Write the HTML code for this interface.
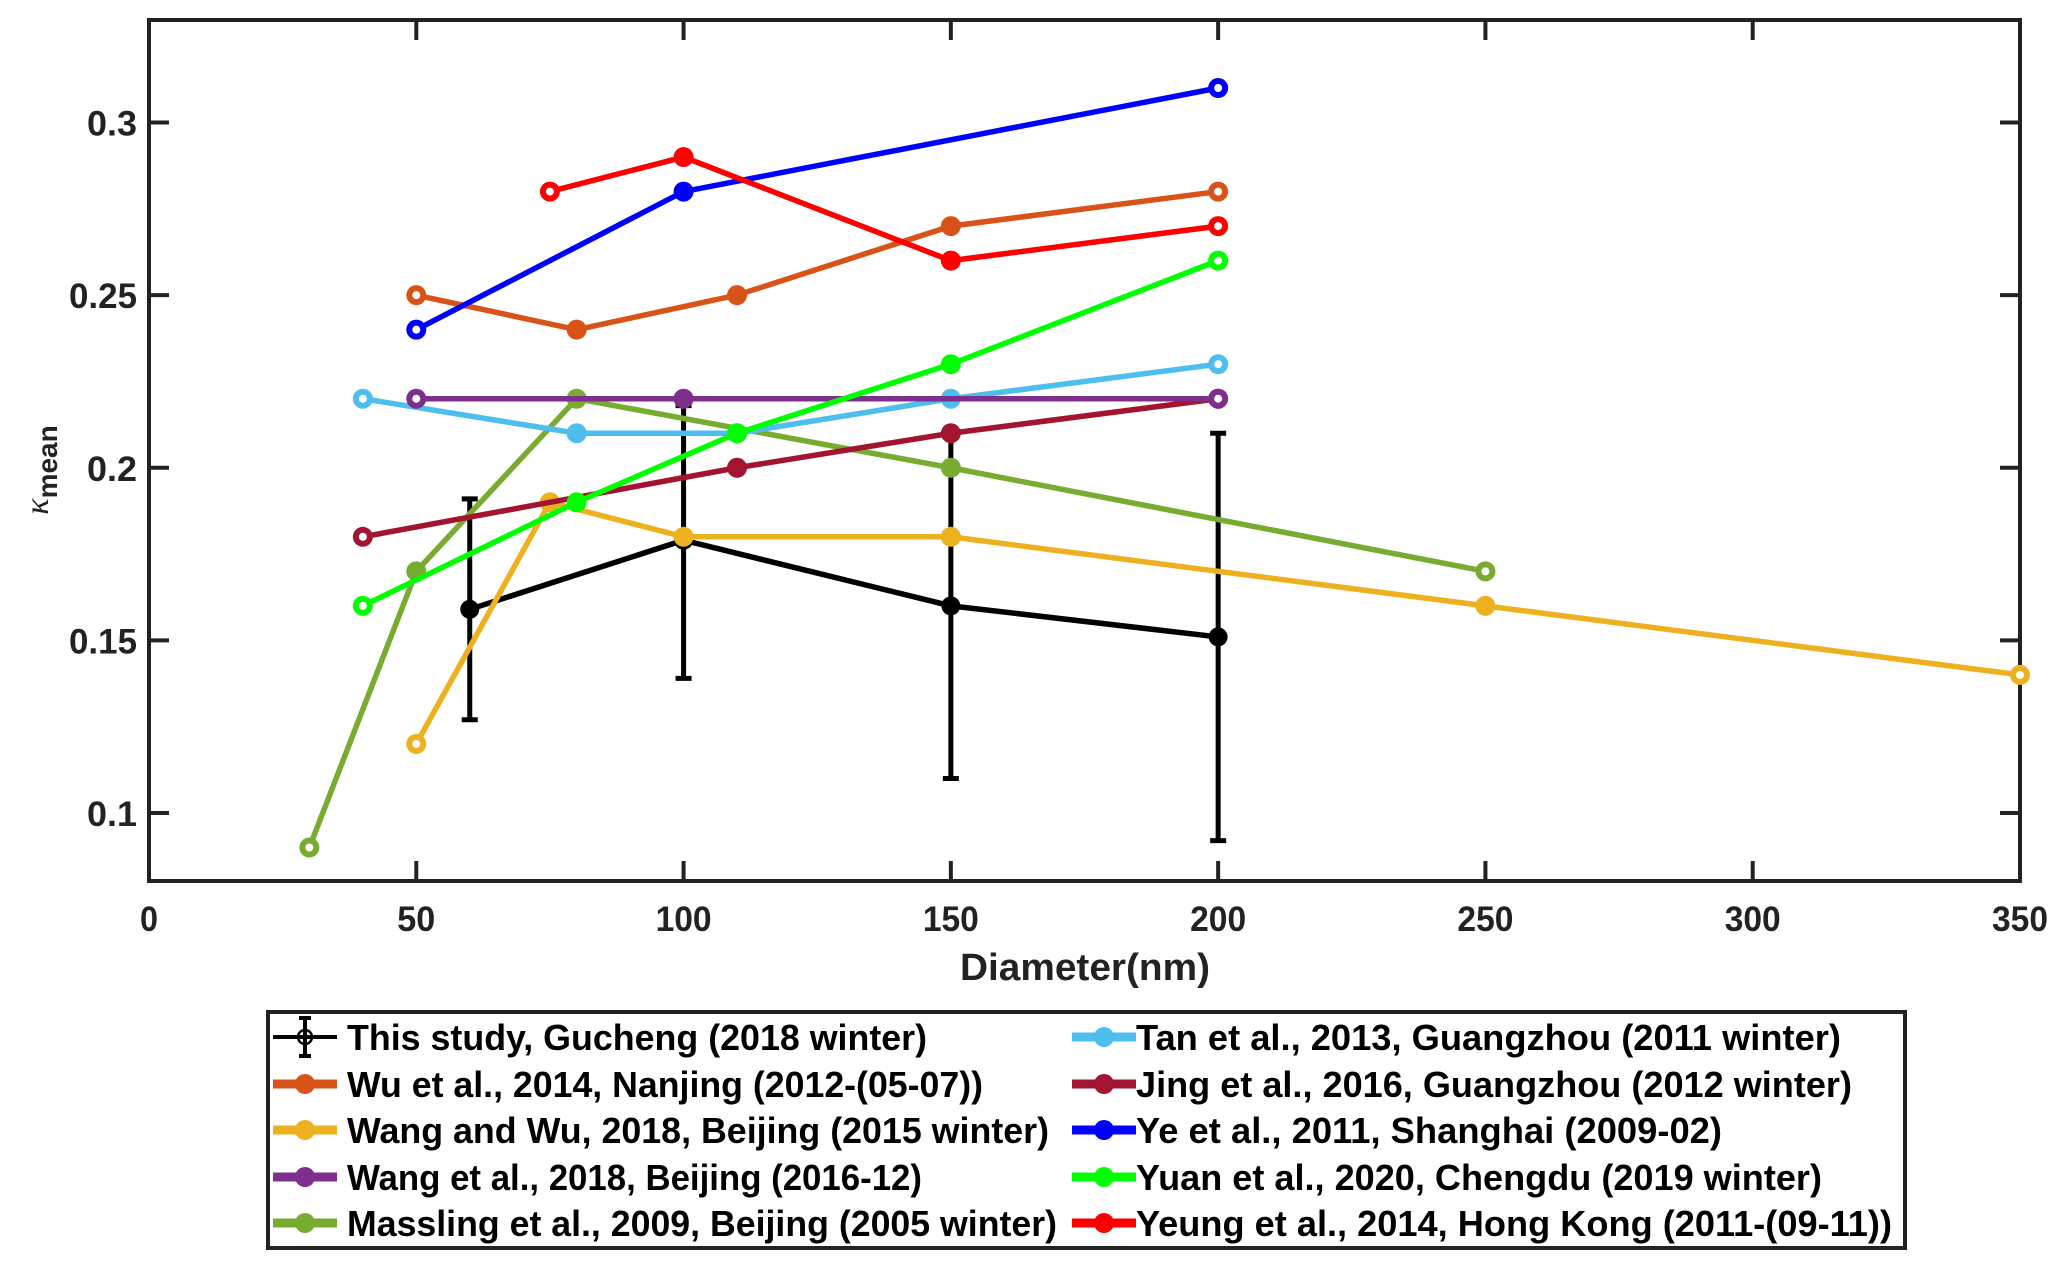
<!DOCTYPE html>
<html><head><meta charset="utf-8"><style>
html,body{margin:0;padding:0;background:#fff;}
svg{display:block;font-family:"Liberation Sans",Arial,sans-serif;font-weight:bold;}
</style></head><body>
<svg id="chart" width="2067" height="1268" viewBox="0 0 2067 1268" xmlns="http://www.w3.org/2000/svg"></svg>
<script>
const xTicks=[0,50,100,150,200,250,300,350];
const yTicks=[0.1,0.15,0.2,0.25,0.3];
const yTickLabels=["0.1","0.15","0.2","0.25","0.3"];
const thisX=[60,100,150,200];
const thisY=[0.159,0.179,0.16,0.151];
const thisLo=[0.127,0.139,0.11,0.092];
const thisHi=[0.191,0.218,0.21,0.21];
const wuX=[50,80,110,150,200], wuY=[0.25,0.24,0.25,0.27,0.28];
const wwX=[50,75,100,150,250,350], wwY=[0.12,0.19,0.18,0.18,0.16,0.14];
const wangX=[50,100,200], wangY=[0.22,0.22,0.22];
const masX=[30,50,80,150,250], masY=[0.09,0.17,0.22,0.20,0.17];
const tanX=[40,80,110,150,200], tanY=[0.22,0.21,0.21,0.22,0.23];
const jingX=[40,110,150,200], jingY=[0.18,0.20,0.21,0.22];
const yeX=[50,100,200], yeY=[0.24,0.28,0.31];
const yuanX=[40,80,110,150,200], yuanY=[0.16,0.19,0.21,0.23,0.26];
const yeungX=[75,100,150,200], yeungY=[0.28,0.29,0.26,0.27];
const seriesNames=["Wu et al., 2014, Nanjing (2012-(05-07))","Wang and Wu, 2018, Beijing (2015 winter)","Wang et al., 2018, Beijing (2016-12)","Massling et al., 2009, Beijing (2005 winter)","Tan et al., 2013, Guangzhou (2011 winter)","Jing et al., 2016, Guangzhou (2012 winter)","Ye et al., 2011, Shanghai (2009-02)","Yuan et al., 2020, Chengdu (2019 winter)","Yeung et al., 2014, Hong Kong (2011-(09-11))"];
const thisName="This study, Gucheng (2018 winter)";

const svg=document.getElementById('chart');
const NS="http://www.w3.org/2000/svg";
const L=149,R=2020,T=20,B=881;
const X0=0,X1=350,Y0=0.0803,Y1=0.3297;
function sx(v){return L+(v-X0)/(X1-X0)*(R-L);}
function sy(v){return B-(v-Y0)/(Y1-Y0)*(B-T);}
function el(tag,attrs,parent){const e=document.createElementNS(NS,tag);for(const k in attrs)e.setAttribute(k,attrs[k]);(parent||svg).appendChild(e);return e;}

const box=el('rect',{x:L,y:T,width:R-L,height:B-T,fill:'none',stroke:'#222',"stroke-width":4});


const tw={"0":18,"50":38,"100":56,"150":56,"200":56,"250":56,"300":56,"350":56};
xTicks.forEach(t=>{
  const x=sx(t);
  const a=el('line',{x1:x,x2:x,y1:B,y2:B-20,stroke:'#222',"stroke-width":4});
  
  
  el('line',{x1:x,x2:x,y1:T,y2:T+20,stroke:'#222',"stroke-width":4});
  const tx=el('text',{x:x,y:B+50,"text-anchor":"middle","font-size":35,fill:'#222',textLength:tw[String(t)],lengthAdjust:'spacingAndGlyphs'});
  tx.textContent=t;
  
  
});
const ytw=[50,68,50,68,50];
yTicks.forEach((t,i)=>{
  const y=sy(t);
  const a=el('line',{x1:L,x2:L+20,y1:y,y2:y,stroke:'#222',"stroke-width":4});
  
  
  el('line',{x1:R,x2:R-20,y1:y,y2:y,stroke:'#222',"stroke-width":4});
  const tx=el('text',{x:L-12,y:y+13,"text-anchor":"end","font-size":35,fill:'#222',textLength:ytw[i],lengthAdjust:'spacingAndGlyphs'});
  tx.textContent=yTickLabels[i];
  
  
});
const xl=el('text',{x:1085,y:980,"text-anchor":"middle","font-size":38,fill:'#222',textLength:250,lengthAdjust:'spacingAndGlyphs'});
xl.textContent="Diameter(nm)";


const yl=el('text',{transform:'translate(48,470) rotate(-90)',"text-anchor":"middle","font-size":30,fill:'#222'});
yl.innerHTML='<tspan font-style="italic" font-weight="normal" font-family="Liberation Serif, serif" font-size="34">κ</tspan><tspan dy="9" font-size="28">mean</tspan>';



const g0=el('g',{});


thisX.forEach((x,i)=>{
  const px=sx(x);
  el('line',{x1:px,x2:px,y1:sy(thisLo[i]),y2:sy(thisHi[i]),stroke:'#000',"stroke-width":5},g0);
  el('line',{x1:px-8,x2:px+8,y1:sy(thisLo[i]),y2:sy(thisLo[i]),stroke:'#000',"stroke-width":5},g0);
  el('line',{x1:px-8,x2:px+8,y1:sy(thisHi[i]),y2:sy(thisHi[i]),stroke:'#000',"stroke-width":5},g0);
});
el('polyline',{points:thisX.map((x,i)=>sx(x)+','+sy(thisY[i])).join(' '),fill:'none',stroke:'#000',"stroke-width":5.5},g0);
thisX.forEach((x,i)=>{el('circle',{cx:sx(x),cy:sy(thisY[i]),r:9.5,fill:'#000'},g0);});

const cols=['#D95319','#EDB120','#7E2F8E','#77AC30','#4DBEEE','#A2142F','#0000FF','#00FF00','#FF0000'];
const XS=[wuX,wwX,wangX,masX,tanX,jingX,yeX,yuanX,yeungX];
const YS=[wuY,wwY,wangY,masY,tanY,jingY,yeY,yuanY,yeungY];
const slugs=['wu-2014','wang-wu-2018','wang-2018','massling-2009','tan-2013','jing-2016','ye-2011','yuan-2020','yeung-2014'];
const order=[3,1,5,4,2,0,7,6,8];
order.forEach(k=>{
  const g=el('g',{});
  
  
  const xs=XS[k],ys=YS[k],c=cols[k];
  el('polyline',{points:xs.map((x,i)=>sx(x)+','+sy(ys[i])).join(' '),fill:'none',stroke:c,"stroke-width":5.5},g);
  xs.forEach((x,i)=>{
    el('circle',{cx:sx(x),cy:sy(ys[i]),r:10,fill:c},g);
    if(i===0||i===xs.length-1) el('circle',{cx:sx(x),cy:sy(ys[i]),r:4,fill:'#fff'},g);
  });
});

const lg=el('g',{});


el('rect',{x:268,y:1012,width:1637,height:236,fill:'#fff',stroke:'#222',"stroke-width":4},lg);
const rowsY=[1037,1084,1130,1177,1223];
const c1W=[580,636,702,575,710], c2W=[705,716,586,686,756];
function legendEntry(lx,tx,ty,color,label,w,isThis){
  const e=el('g',{},lg);
  
  
  el('line',{x1:lx,x2:lx+64,y1:ty,y2:ty,stroke:color,"stroke-width":isThis?4:9},e);
  if(isThis){
    el('line',{x1:lx+32,x2:lx+32,y1:ty-19,y2:ty+19,stroke:'#000',"stroke-width":4},e);
    el('line',{x1:lx+26,x2:lx+38,y1:ty-19,y2:ty-19,stroke:'#000',"stroke-width":4},e);
    el('line',{x1:lx+26,x2:lx+38,y1:ty+19,y2:ty+19,stroke:'#000',"stroke-width":4},e);
    el('circle',{cx:lx+32,cy:ty,r:7,fill:'none',stroke:'#000',"stroke-width":2.5},e);
  } else el('circle',{cx:lx+32,cy:ty,r:10,fill:color},e);
  const t=el('text',{x:tx,y:ty+13,"font-size":36,fill:'#000',textLength:w,lengthAdjust:'spacingAndGlyphs'},e);
  t.textContent=label;
}
legendEntry(273,347,rowsY[0],'#000',thisName,c1W[0],true);
for(let i=0;i<4;i++) legendEntry(273,347,rowsY[i+1],cols[i],seriesNames[i],c1W[i+1],false);
for(let i=4;i<9;i++) legendEntry(1072,1136,rowsY[i-4],cols[i],seriesNames[i],c2W[i-4],false);
</script>
</body></html>
